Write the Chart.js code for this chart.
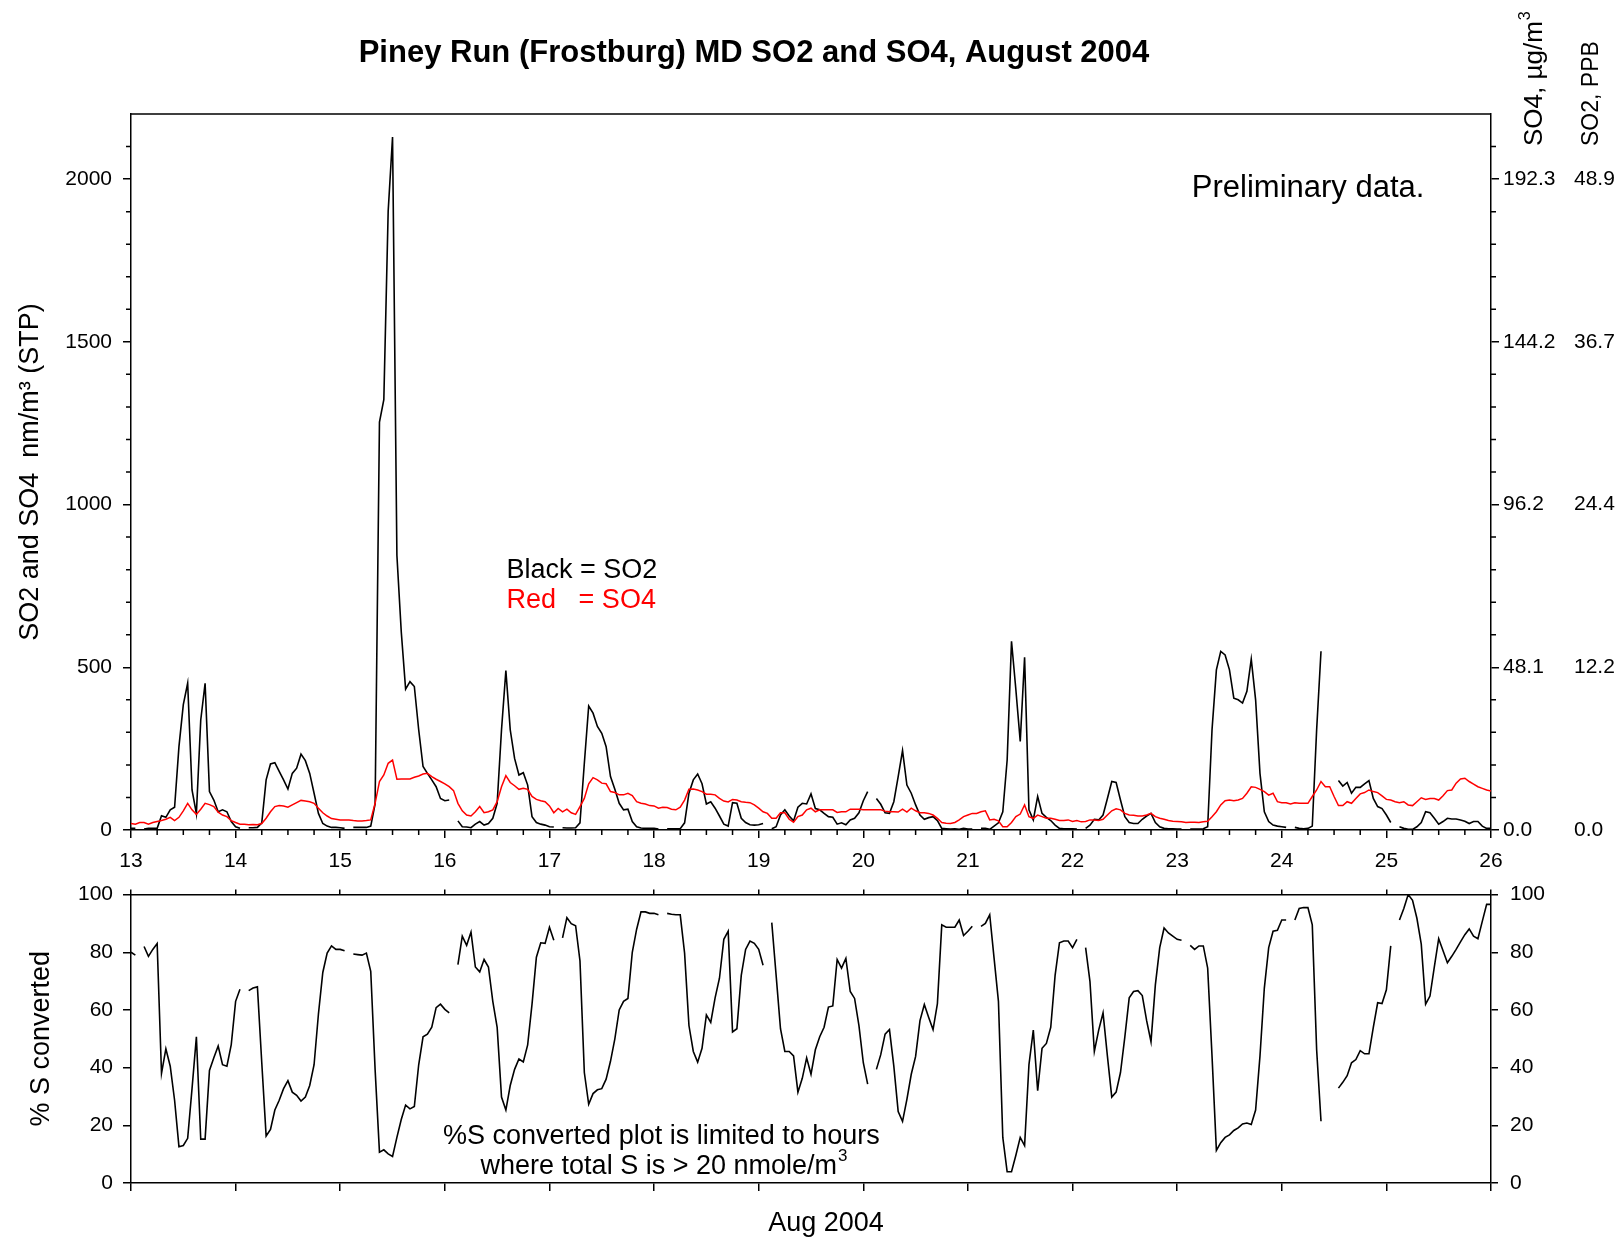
<!DOCTYPE html>
<html>
<head>
<meta charset="utf-8">
<title>Piney Run (Frostburg) MD SO2 and SO4, August 2004</title>
<script src="https://cdn.jsdelivr.net/npm/chart.js@4.4.1/dist/chart.umd.min.js"></script>
<style>
  body { margin: 0; background: #fff; }
  #wrap { position: relative; width: 1623px; height: 1238px; }
  #top { position: absolute; left: 0; top: 0; }
  #bottom { position: absolute; left: 0; top: 870px; }
</style>
</head>
<body>
<div id="wrap">
  <canvas id="top" width="1623" height="880"></canvas>
  <canvas id="bottom" width="1623" height="368"></canvas>
</div>
<script>
// hourly values from 13 Aug 2004 00:00 to 26 Aug 00:00, one row per day
// (02:00 is the daily calibration hour, so it is missing)
const startDay = 13;

// SO2, nmol/m3 (STP)
const so2 = [
  5, 5, null, 3, 5, 5, 5, 44, 39, 62, 70, 256, 385, 451, 123, 50, 338, 451, 118, 92, 56, 62, 56, 26,
  10, 5, null, 7, 7, 8, 22, 154, 203, 207, 180, 154, 126, 174, 190, 233, 213, 174, 113, 51, 20, 12, 8, 8,
  7, 5, null, 8, 8, 8, 8, 12, 80, 1253, 1322, 1902, 2129, 844, 609, 433, 456, 441, 308, 195, 174, 154, 133, 97,
  90, 92, null, 28, 10, 9, 7, 18, 26, 15, 20, 36, 82, 308, 490, 308, 220, 169, 176, 138, 41, 23, 18, 15,
  10, 9, null, 7, 6, 6, 7, 22, 205, 381, 359, 318, 297, 256, 164, 125, 82, 62, 64, 26, 10, 6, 5, 5,
  5, 3, null, 4, 4, 4, 4, 22, 113, 154, 172, 142, 80, 87, 67, 43, 18, 12, 84, 82, 36, 23, 16, 15,
  16, 20, null, 4, 10, 46, 62, 43, 28, 70, 82, 80, 111, 66, 62, 51, 41, 39, 18, 22, 16, 31, 36, 53,
  90, 118, null, 97, 79, 53, 51, 87, 164, 244, 138, 113, 77, 46, 33, 38, 41, 29, 5, 4, 3, 4, 2, 5,
  3, 3, null, 5, 5, 2, 12, 22, 56, 215, 580, 431, 272, 531, 62, 31, 103, 51, 39, 29, 15, 5, 4, 4,
  4, 3, null, 5, 15, 33, 31, 46, 97, 149, 146, 92, 41, 23, 20, 20, 33, 43, 51, 23, 10, 5, 4, 4,
  3, 3, null, 3, 3, 3, 4, 10, 308, 492, 549, 538, 492, 405, 400, 390, 426, 525, 400, 174, 56, 26, 15, 12,
  10, 8, null, 8, 5, 4, 5, 12, 308, 549, null, null, null, 152, 135, 146, 113, 131, 131, 142, 152, 97, 72, 66,
  46, 23, null, 10, 5, 2, 2, 10, 23, 56, 53, 36, 18, 26, 36, 34, 34, 31, 27, 20, 26, 26, 12, 5,
  5
];

// SO4, nmol/m3 (STP)
const so4 = [
  20, 18, 23, 23, 18, 23, 26, 29, 33, 39, 29, 39, 59, 82, 62, 48, 64, 82, 78, 72, 55, 46, 41, 29,
  23, 18, 18, 16, 17, 16, 20, 36, 56, 72, 75, 74, 70, 77, 84, 91, 89, 87, 82, 67, 53, 43, 35, 33,
  31, 31, 31, 29, 28, 28, 29, 31, 82, 149, 169, 205, 215, 156, 157, 157, 157, 162, 166, 172, 174, 164, 156, 149,
  142, 133, 121, 82, 59, 46, 43, 56, 72, 53, 56, 62, 87, 133, 167, 146, 136, 125, 128, 125, 103, 94, 90, 87,
  74, 53, 66, 56, 64, 53, 48, 72, 97, 142, 161, 154, 144, 142, 118, 115, 108, 108, 113, 106, 87, 82, 80, 75,
  74, 67, 70, 69, 64, 62, 70, 92, 125, 126, 123, 118, 110, 110, 108, 97, 89, 86, 94, 92, 87, 85, 84, 77,
  67, 56, 51, 36, 36, 53, 53, 33, 24, 41, 46, 62, 67, 56, 62, 62, 62, 62, 54, 56, 56, 64, 64, 64,
  62, 62, 62, 62, 62, 58, 56, 56, 55, 64, 55, 67, 59, 53, 53, 51, 46, 36, 23, 21, 20, 23, 31, 41,
  46, 51, 51, 56, 59, 31, 33, 28, 10, 10, 23, 41, 49, 77, 41, 36, 46, 41, 36, 36, 33, 29, 29, 31,
  26, 29, 25, 26, 31, 31, 29, 33, 46, 59, 65, 62, 51, 46, 45, 43, 43, 46, 51, 41, 36, 33, 29, 27,
  26, 25, 23, 24, 24, 23, 25, 27, 41, 56, 77, 90, 92, 90, 92, 97, 113, 133, 131, 125, 118, 107, 113, 87,
  84, 84, 80, 84, 82, 82, 82, 103, 123, 149, 133, 133, 103, 75, 75, 87, 82, 97, 111, 115, 123, 118, 115, 105,
  94, 92, 87, 84, 87, 77, 75, 87, 99, 94, 97, 97, 92, 105, 121, 123, 144, 157, 159, 149, 141, 133, 128, 123,
  120
];

// sulfur converted to sulfate, %
const pctS = [
  80, 79, null, 82, 78.6, 81, 83, 38, 46.5, 40.5, 28.7, 12.6, 13, 15.5, 32.7, 50.7, 15.2, 15.2, 39, 43.4, 47.5, 41, 40.5, 48,
  63, 67.2, null, 66.7, 67.6, 68, 41.7, 16.3, 18.6, 25.3, 28.7, 32.7, 35.5, 31.5, 30.4, 28.4, 29.8, 33.8, 41, 58.6, 73, 79.7, 82.2, 81,
  81, 80.5, null, 79.4, 79.2, 79, 79.7, 73.4, 39.4, 10.7, 11.5, 10.1, 9.2, 15.8, 22, 27, 25.7, 26.5, 41, 50.7, 51.6, 54, 60.8, 62,
  60.2, 59, null, 75.7, 85.6, 82.4, 87, 74.9, 73.2, 77.5, 74.9, 63, 54, 29.8, 25.3, 33.8, 39.4, 43, 42, 47.9, 62, 78.3, 83.3, 83.1,
  88.7, 84.2, null, 85, 92, 89.9, 89.2, 77, 38.3, 27.3, 31, 32.3, 32.7, 36, 42.2, 50, 60, 63, 64, 80, 88, 94, 94, 93.5,
  93.5, 93, null, 93.5, 93.2, 93, 93, 79.7, 54.6, 45.6, 41.9, 46.7, 58.3, 55.7, 64.2, 71, 84.5, 87.3, 52.4, 53.5, 72, 81, 83.9, 83.1,
  81, 75.5, null, 90.3, 72, 53.5, 45.6, 45.6, 44.1, 31.5, 36.3, 43.4, 37.7, 46.2, 50.7, 54, 61, 61.4, 77.5, 74.5, 77.9, 66.4, 64, 54.6,
  41.7, 34.3, null, 39.4, 44.5, 51.6, 53.2, 40.5, 24.8, 21.4, 29, 37.7, 43.9, 56.3, 61.9, 57.4, 53.2, 62.2, 89.5, 88.7, 88.7, 88.7, 91.2, 85.8,
  87.3, 89, null, 89, 90, 93, 78, 63, 15.8, 3.9, 3.9, 9.6, 15.8, 13, 41, 53, 32, 46.7, 48.4, 54, 72, 83.3, 83.9, 83.9,
  81.6, 84.5, null, 81.6, 69.8, 45.6, 53, 59, 44, 29.8, 31.5, 38.3, 50.7, 64.2, 66.4, 66.7, 65, 56.3, 49, 68.7, 81.6, 88.4, 86.7, 85.6,
  84.5, 84.2, null, 82.4, 81, 82.2, 82.2, 74.5, 44, 11.3, 14, 15.8, 16.7, 18.2, 19.1, 20.5, 20.8, 20.3, 25.3, 44, 67.6, 81.6, 87.3, 87.6,
  91.2, 91.2, null, 91.2, 95.2, 95.5, 95.5, 89.5, 46.2, 21.4, null, null, null, 32.9, 34.9, 37.2, 41.7, 42.8, 45.9, 44.8, 44.8, 54, 62.5, 62.2,
  67, 82.2, null, 91.2, 95.2, 100, 98, 91.8, 82.8, 62, 64.8, 74.9, 84.7, 80.5, 76.4, 78.6, 81, 83.6, 86.1, 88.1, 85.6, 84.7, 90.7, 96.6,
  96.6
];

// labelled ticks of the concentration axes; right hand columns are the same levels in other units
const nmTicks = [0, 500, 1000, 1500, 2000];
const so4TickLabels = ['0.0', '48.1', '96.2', '144.2', '192.3'];
const so2TickLabels = ['0.0', '12.2', '24.4', '36.7', '48.9'];

const FONT = "'Liberation Sans', Arial, Helvetica, sans-serif";
Chart.defaults.font.family = FONT;
Chart.defaults.font.size = 21;
Chart.defaults.color = '#000';

const toPoints = arr => arr.map((v, i) => ({ x: startDay + i / 24, y: v }));
const fixWidth = w => scale => { scale.width = w; };
const fixHeight = h => scale => { scale.height = h; };
const useTicks = values => scale => { scale.ticks = values.map(value => ({ value })); };

const axisLine = { color: '#000', width: 1.5 };
const tickMarks = len => ({ drawOnChartArea: false, drawTicks: true, tickLength: len, color: '#000', lineWidth: 1.5 });

// short ticks every 6 h and every 100 nmol/m3, plus the top edge of the frame
const minorTicks = {
  id: 'minorTicks',
  afterDraw(chart, args, opts) {
    const { ctx, chartArea: a, scales: { x, y } } = chart;
    ctx.save();
    ctx.strokeStyle = '#000';
    ctx.lineWidth = 1.5;
    ctx.beginPath();
    ctx.moveTo(a.left, a.top);
    ctx.lineTo(a.right, a.top);
    for (let d = x.min; d < x.max; d += opts.xStep) {
      if (Number.isInteger(d)) continue;
      const px = x.getPixelForValue(d);
      ctx.moveTo(px, a.bottom);
      ctx.lineTo(px, a.bottom + opts.len);
    }
    for (let v = y.min; v < y.max; v += opts.yStep) {
      if (v % opts.yMajor === 0) continue;
      const py = y.getPixelForValue(v);
      ctx.moveTo(a.left - opts.len, py);
      ctx.lineTo(a.left, py);
      ctx.moveTo(a.right, py);
      ctx.lineTo(a.right + opts.len, py);
    }
    ctx.stroke();
    ctx.restore();
  }
};

// free text; items with data: true are placed on the x / y scales, sup is a raised smaller suffix
const notes = {
  id: 'notes',
  afterDraw(chart, args, opts) {
    const { ctx, scales } = chart;
    for (const n of opts.items) {
      ctx.save();
      ctx.font = `${n.size}px ${FONT}`;
      if (n.bold) ctx.font = `bold ${ctx.font}`;
      ctx.fillStyle = n.color || '#000';
      ctx.textBaseline = 'middle';
      const px = n.data ? scales.x.getPixelForValue(n.x) : n.x;
      const py = n.data ? scales.y.getPixelForValue(n.y) : n.y;
      ctx.translate(px, py);
      if (n.rotate) ctx.rotate(n.rotate);
      const w = ctx.measureText(n.text).width;
      const supSize = Math.round(n.size * 0.62);
      let supW = 0;
      if (n.sup) {
        ctx.font = `${supSize}px ${FONT}`;
        supW = ctx.measureText(n.sup).width;
        ctx.font = `${n.size}px ${FONT}`;
      }
      const x0 = n.align === 'center' ? -(w + supW) / 2 : 0;
      ctx.textAlign = 'left';
      if (n.bold) ctx.font = `bold ${n.size}px ${FONT}`;
      ctx.fillText(n.text, x0, 0);
      if (n.sup) {
        ctx.font = `${supSize}px ${FONT}`;
        ctx.fillText(n.sup, x0 + w + 1, -n.size * 0.38);
      }
      ctx.restore();
    }
  }
};

new Chart('top', {
  type: 'line',
  data: {
    datasets: [
      { label: 'SO4', data: toPoints(so4), borderColor: '#ff0000', borderWidth: 1.5 },
      { label: 'SO2', data: toPoints(so2), borderColor: '#000000', borderWidth: 1.6 }
    ]
  },
  options: {
    responsive: false,
    animation: false,
    spanGaps: false,
    layout: { padding: { top: 114, bottom: 10, left: 0, right: 0 } },
    elements: { point: { radius: 0 }, line: { tension: 0 } },
    plugins: {
      legend: { display: false },
      tooltip: { enabled: false },
      minorTicks: { xStep: 0.25, yStep: 100, yMajor: 500, len: 5 },
      notes: {
        items: [
          { text: 'Piney Run (Frostburg) MD SO2 and SO4, August 2004', x: 754, y: 53, align: 'center', size: 31, bold: true },
          { text: 'SO4, µg/m', sup: '3', x: 1535, y: 146, rotate: -Math.PI / 2, size: 26 },
          { text: 'SO2, PPB', x: 1592, y: 146, rotate: -Math.PI / 2, size: 23 },
          { text: 'Preliminary data.', data: true, x: 23.14, y: 1972, size: 31 },
          { text: 'Black = SO2', data: true, x: 16.59, y: 796, size: 27 },
          { text: 'Red   = SO4', data: true, x: 16.59, y: 704, color: '#ff0000', size: 27 }
        ]
      }
    },
    scales: {
      x: {
        type: 'linear', position: 'bottom', min: 13, max: 26,
        ticks: { stepSize: 1, autoSkip: false, maxRotation: 0, padding: 11 },
        grid: tickMarks(8), border: axisLine,
        afterFit: fixHeight(40)
      },
      y: {
        position: 'left', min: 0, max: 2200,
        ticks: { padding: 11, callback: v => String(v) },
        afterBuildTicks: useTicks(nmTicks),
        grid: tickMarks(8), border: axisLine,
        title: { display: true, text: 'SO2 and SO4  nm/m³ (STP)', font: { size: 27 }, padding: { top: 14, bottom: 0 } },
        afterFit: fixWidth(131)
      },
      y1: {
        position: 'right', min: 0, max: 2200,
        ticks: { padding: 4, callback: (v, i) => so4TickLabels[i] },
        afterBuildTicks: useTicks(nmTicks),
        grid: tickMarks(8), border: axisLine,
        afterFit: fixWidth(79)
      },
      y2: {
        position: 'right', min: 0, max: 2200,
        ticks: { padding: 4, callback: (v, i) => so2TickLabels[i] },
        afterBuildTicks: useTicks(nmTicks),
        grid: { display: false, drawTicks: false }, border: { display: false },
        afterFit: fixWidth(53)
      }
    }
  },
  plugins: [minorTicks, notes]
});

new Chart('bottom', {
  type: 'line',
  data: {
    datasets: [
      { label: '% S converted', data: toPoints(pctS), borderColor: '#000000', borderWidth: 1.6 }
    ]
  },
  options: {
    responsive: false,
    animation: false,
    spanGaps: false,
    layout: { padding: { top: 12, bottom: 47, left: 0, right: 0 } },
    elements: { point: { radius: 0 }, line: { tension: 0 } },
    plugins: {
      legend: { display: false },
      tooltip: { enabled: false },
      notes: {
        items: [
          { text: '%S converted plot is limited to hours', data: true, x: 18.07, y: 16.2, align: 'center', size: 27 },
          { text: 'where total S is > 20 nmole/m', sup: '3', data: true, x: 18.09, y: 5.7, align: 'center', size: 27 },
          { text: 'Aug 2004', x: 826, y: 354, align: 'center', size: 27 }
        ]
      }
    },
    scales: {
      x: {
        type: 'linear', position: 'bottom', min: 13, max: 26,
        ticks: { stepSize: 1, display: false },
        grid: tickMarks(8), border: axisLine,
        afterFit: fixHeight(8)
      },
      xTop: {
        type: 'linear', position: 'top', min: 13, max: 26,
        ticks: { stepSize: 1, display: false },
        grid: tickMarks(5), border: axisLine,
        afterFit: fixHeight(5)
      },
      y: {
        position: 'left', min: 0, max: 100,
        ticks: { stepSize: 20, padding: 10 },
        grid: tickMarks(8), border: axisLine,
        title: { display: true, text: '% S converted', font: { size: 27 }, padding: { top: 25, bottom: 0 } },
        afterFit: fixWidth(131)
      },
      y1: {
        position: 'right', min: 0, max: 100,
        ticks: { stepSize: 20, padding: 12 },
        grid: tickMarks(7), border: axisLine,
        afterFit: fixWidth(132)
      }
    }
  },
  plugins: [notes]
});
</script>
</body>
</html>
